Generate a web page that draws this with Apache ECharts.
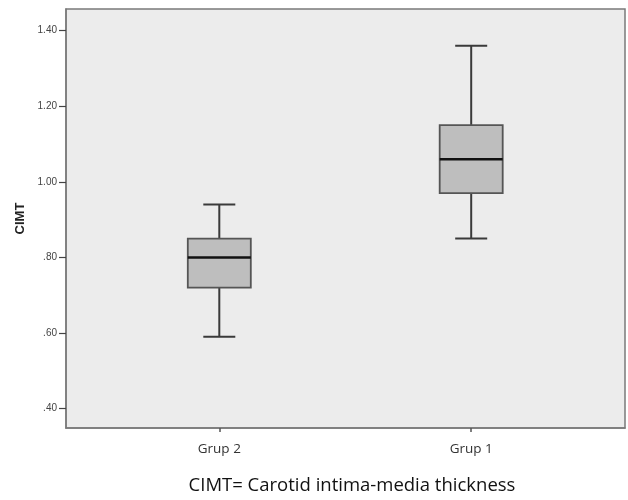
<!DOCTYPE html>
<html>
<head>
<meta charset="utf-8">
<script src="https://cdn.jsdelivr.net/npm/echarts@6/dist/echarts.min.js"></script>
<style>html,body{margin:0;padding:0;background:#fff;}#c{width:628px;height:500px;}</style>
</head>
<body>
<div id="c"></div>
<script>
// Data
const categories = ['Grup 2', 'Grup 1'];
const whiskerLow = [0.59, 0.85];
const q1 = [0.72, 0.97];
const median = [0.80, 1.06];
const q3 = [0.85, 1.15];
const whiskerHigh = [0.94, 1.36];
const yTicks = [0.4, 0.6, 0.8, 1.0, 1.2, 1.4];
const yTickLabels = ['.40', '.60', '.80', '1.00', '1.20', '1.40'];
const caption = 'CIMT= Carotid intima-media thickness';

const positions = categories.map((c, i) => i + 1);
const seriesData = categories.map((c, i) => [positions[i], whiskerLow[i], q1[i], median[i], q3[i], whiskerHigh[i]]);

const chart = echarts.init(document.getElementById('c'));
chart.setOption({
  animation: false,
  backgroundColor: '#ffffff',
  title: {
    text: caption,
    left: 347, top: 471, textAlign: 'center',
    textStyle: { fontFamily: 'Open Sans', fontSize: 18.5, fontWeight: 'normal', color: '#111' }
  },
  grid: {
    left: 66, top: 9, right: 3, bottom: 72,
    show: true, backgroundColor: '#ececec', borderColor: '#7a7a7a', borderWidth: 1.5
  },
  xAxis: {
    type: 'value', min: 0.3914, max: 2.6106,
    splitLine: { show: false },
    axisLine: { show: true, lineStyle: { color: '#7a7a7a', width: 1.5 } },
    axisTick: { show: true, length: 4, customValues: positions, lineStyle: { color: '#555', width: 1.5 } },
    axisLabel: {
      customValues: positions, margin: 14,
      formatter: v => categories[Math.round(v) - 1] || '',
      fontFamily: 'Open Sans', fontSize: 13.5, color: '#333'
    }
  },
  yAxis: {
    type: 'value', min: 0.3486, max: 1.4575,
    name: 'CIMT', nameLocation: 'middle', nameGap: 38, nameRotate: 90,
    nameTextStyle: { fontFamily: 'Liberation Sans', fontWeight: 'bold', fontSize: 13, color: '#222' },
    splitLine: { show: false },
    axisLine: { show: true, lineStyle: { color: '#7a7a7a', width: 1.5 } },
    axisTick: { show: true, length: 7, customValues: yTicks, lineStyle: { color: '#444', width: 1.2 } },
    axisLabel: {
      customValues: yTicks, margin: 9,
      formatter: v => { const i = yTicks.findIndex(t => Math.abs(t - v) < 1e-6); return i >= 0 ? yTickLabels[i] : ''; },
      fontFamily: 'Liberation Sans', fontSize: 10, color: '#444'
    }
  },
  series: [{
    type: 'custom',
    data: seriesData,
    encode: { x: 0, y: [1, 2, 3, 4, 5] },
    renderItem: function (params, api) {
      const x = api.value(0);
      const pLow = api.coord([x, api.value(1)]);
      const pQ1 = api.coord([x, api.value(2)]);
      const pMed = api.coord([x, api.value(3)]);
      const pQ3 = api.coord([x, api.value(4)]);
      const pHigh = api.coord([x, api.value(5)]);
      const cx = pLow[0];
      const hw = 31.5, cw = 16;
      const lineStyle = { stroke: '#3a3a3a', lineWidth: 2 };
      return {
        type: 'group',
        children: [
          { type: 'line', shape: { x1: cx, y1: pHigh[1], x2: cx, y2: pQ3[1] }, style: lineStyle },
          { type: 'line', shape: { x1: cx, y1: pQ1[1], x2: cx, y2: pLow[1] }, style: lineStyle },
          { type: 'line', shape: { x1: cx - cw, y1: pHigh[1], x2: cx + cw, y2: pHigh[1] }, style: lineStyle },
          { type: 'line', shape: { x1: cx - cw, y1: pLow[1], x2: cx + cw, y2: pLow[1] }, style: lineStyle },
          { type: 'rect', shape: { x: cx - hw, y: pQ3[1], width: 2 * hw, height: pQ1[1] - pQ3[1] },
            style: { fill: '#bebebe', stroke: '#555', lineWidth: 1.8 } },
          { type: 'line', shape: { x1: cx - hw, y1: pMed[1], x2: cx + hw, y2: pMed[1] },
            style: { stroke: '#111', lineWidth: 2.6 } }
        ]
      };
    }
  }]
});
</script>
</body>
</html>
